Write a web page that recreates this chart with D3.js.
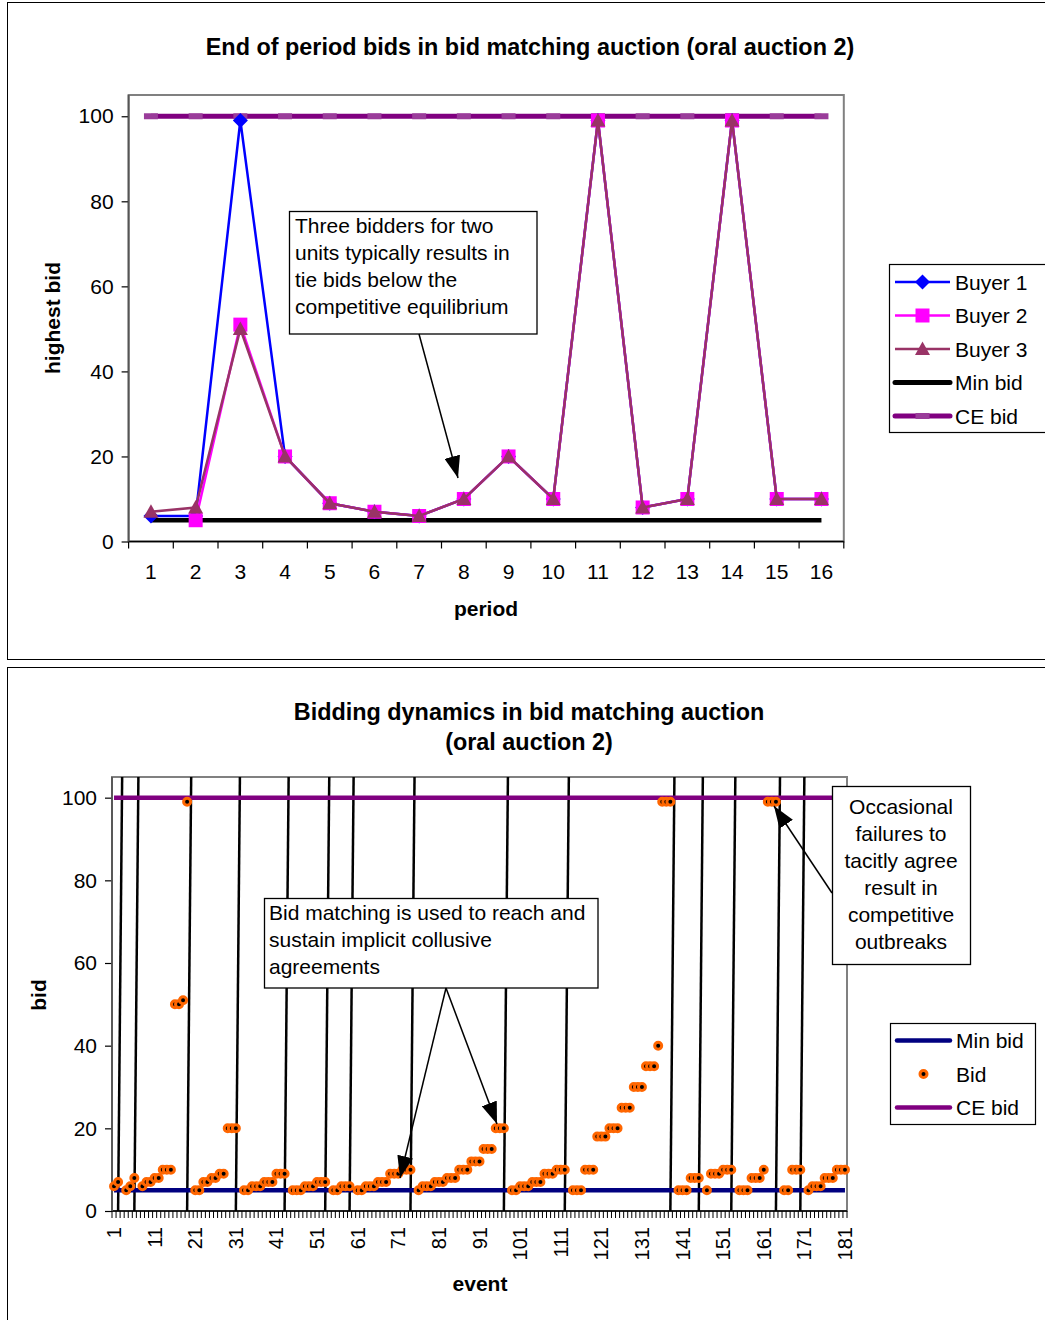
<!DOCTYPE html>
<html>
<head>
<meta charset="utf-8">
<script src="https://cdn.jsdelivr.net/npm/d3@7/dist/d3.min.js"></script>
<style>
  body { margin: 0; background: #fff; }
  svg text { font-family: "Liberation Sans", Arial, sans-serif; fill: #000; }
</style>
</head>
<body>
<svg id="chart" width="1045" height="1320"></svg>
<script>
// ---- top chart: end of period bids ----
const periods = [1, 2, 3, 4, 5, 6, 7, 8, 9, 10, 11, 12, 13, 14, 15, 16]
const buyer1 = [6, 6, 99, 20, 9, 7, 6, 10, 20, 10, 99, 8, 10, 99, 10, 10]
const buyer2 = [null, 5, 51, 20, 9, 7, 6, 10, 20, 10, 99, 8, 10, 99, 10, 10]
const buyer3 = [7, 8, 50, 20, 9, 7, 6, 10, 20, 10, 99, 8, 10, 99, 10, 10]
const minBid = [5, 5, 5, 5, 5, 5, 5, 5, 5, 5, 5, 5, 5, 5, 5, 5]
const ceBid = [100, 100, 100, 100, 100, 100, 100, 100, 100, 100, 100, 100, 100, 100, 100, 100]
const yTicks = [0, 20, 40, 60, 80, 100]

// ---- bottom chart: every bid event, grouped by period ----
const periodBids = [
  [6, 7],
  [5, 6, 8],
  [6, 7, 7, 8, 8, 10, 10, 10, 50, 50, 51, 99],
  [5, 5, 7, 7, 8, 8, 9, 9, 20, 20, 20],
  [5, 5, 6, 6, 6, 7, 7, 7, 9, 9, 9],
  [5, 5, 5, 6, 6, 6, 7, 7, 7],
  [5, 5, 6, 6, 6],
  [5, 5, 6, 6, 6, 7, 7, 7, 9, 9, 9, 10, 10, 10],
  [5, 6, 6, 6, 7, 7, 7, 8, 8, 8, 10, 10, 10, 12, 12, 12, 15, 15, 15, 20, 20, 20],
  [5, 5, 6, 6, 6, 7, 7, 7, 9, 9, 9, 10, 10, 10],
  [5, 5, 5, 10, 10, 10, 18, 18, 18, 20, 20, 20, 25, 25, 25, 30, 30, 30, 35, 35, 35, 40, 99, 99, 99],
  [5, 5, 5, 8, 8, 8],
  [5, 9, 9, 9, 10, 10, 10],
  [5, 5, 5, 8, 8, 8, 10, 99, 99, 99],
  [5, 5, 10, 10, 10],
  [5, 6, 6, 6, 8, 8, 8, 10, 10, 10]
]
const minBidEvents = 5
const ceBidEvents = 100
const eventTickStep = 10

// one empty event between periods, where the period divider is drawn
let bids = []
periodBids.forEach((p, i) => {
  if (i > 0) bids.push(null)
  bids = bids.concat(p)
})
const events = bids.map((d, i) => i + 1)

const svg = d3.select('#chart')
svg.append('rect').attr('width', 1045).attr('height', 1320).attr('fill', '#fff')

// arrow head
svg.append('defs').append('marker')
  .attr('id', 'head')
  .attr('viewBox', '-22 -8 22 16')
  .attr('refX', 0).attr('refY', 0)
  .attr('markerWidth', 22).attr('markerHeight', 16)
  .attr('markerUnits', 'userSpaceOnUse')
  .attr('orient', 'auto')
  .append('path').attr('d', 'M0,0L-22,-8L-22,8Z').attr('fill', '#000')

// chart frames
svg.append('rect').attr('x', 7.5).attr('y', 2.5).attr('width', 1050).attr('height', 657)
  .attr('fill', 'none').attr('stroke', '#000')
svg.append('rect').attr('x', 7.5).attr('y', 667.5).attr('width', 1050).attr('height', 700)
  .attr('fill', 'none').attr('stroke', '#000')

function styleAxis(g, size) {
  g.select('.domain').remove()
  g.selectAll('line').attr('stroke', '#000').attr('stroke-width', 1.2)
  g.selectAll('text').style('font-size', size + 'px').attr('fill', '#000')
}

function note(x, y, w, h, lines, tx, ty, anchor) {
  svg.append('rect').attr('x', x).attr('y', y).attr('width', w).attr('height', h)
    .attr('fill', '#fff').attr('stroke', '#000').attr('stroke-width', 1.3)
  svg.selectAll(null).data(lines).enter().append('text')
    .attr('x', tx).attr('y', (d, i) => ty + i * 27)
    .attr('text-anchor', anchor)
    .style('font-size', '21px')
    .text(d => d)
}

function arrow(x1, y1, x2, y2) {
  svg.append('line').attr('x1', x1).attr('y1', y1).attr('x2', x2).attr('y2', y2)
    .attr('stroke', '#000').attr('stroke-width', 1.5).attr('marker-end', 'url(#head)')
}

// ================= TOP CHART =================
const T = {left: 128.6, right: 843.8, top: 95, bottom: 541.5}
const xTop = d3.scaleBand().domain(periods).range([T.left, T.right])
const yTop = d3.scaleLinear().domain([0, 105]).range([T.bottom, T.top])
const cx = p => xTop(p) + xTop.bandwidth() / 2

svg.append('text').attr('x', 530).attr('y', 55).attr('text-anchor', 'middle')
  .style('font-size', '23.4px').style('font-weight', 'bold')
  .text('End of period bids in bid matching auction (oral auction 2)')

svg.append('rect').attr('x', T.left).attr('y', T.top)
  .attr('width', T.right - T.left).attr('height', T.bottom - T.top)
  .attr('fill', '#fff').attr('stroke', '#808080').attr('stroke-width', 2)

svg.append('g').attr('transform', `translate(${T.left},0)`)
  .call(d3.axisLeft(yTop).tickValues(yTicks).tickSize(7).tickPadding(8))
  .call(g => styleAxis(g, 21))

svg.append('g').attr('transform', `translate(0,${T.bottom})`)
  .call(d3.axisBottom(xTop).tickSize(0).tickPadding(23))
  .call(g => styleAxis(g, 21))

// category boundary ticks
svg.append('g').selectAll('line')
  .data(periods.concat([null]))
  .enter().append('line')
  .attr('x1', (d, i) => T.left + i * xTop.bandwidth())
  .attr('x2', (d, i) => T.left + i * xTop.bandwidth())
  .attr('y1', T.bottom).attr('y2', T.bottom + 7)
  .attr('stroke', '#000').attr('stroke-width', 1.2)

svg.append('line').attr('x1', T.left).attr('x2', T.right).attr('y1', T.bottom).attr('y2', T.bottom)
  .attr('stroke', '#000').attr('stroke-width', 1.5)
svg.append('line').attr('x1', T.left).attr('x2', T.left).attr('y1', T.top).attr('y2', T.bottom)
  .attr('stroke', '#555').attr('stroke-width', 1.8)

svg.append('text').attr('transform', 'translate(60,318) rotate(-90)').attr('text-anchor', 'middle')
  .style('font-size', '21px').style('font-weight', 'bold').text('highest bid')
svg.append('text').attr('x', 486).attr('y', 616).attr('text-anchor', 'middle')
  .style('font-size', '21px').style('font-weight', 'bold').text('period')

const lineTop = d3.line()
  .defined(d => d !== null)
  .x((d, i) => cx(periods[i]))
  .y(d => yTop(d))

const shapes = {
  diamond: 'M0,-7.5L7.5,0L0,7.5L-7.5,0Z',
  square: 'M-7,-7H7V7H-7Z',
  triangle: 'M0,-7.5L7.5,6L-7.5,6Z',
  dash: 'M-7,-3H7V3H-7Z'
}

const topSeries = [
  {name: 'Min bid', values: minBid, color: '#000000', width: 4.5, shape: null},
  {name: 'CE bid', values: ceBid, color: '#800080', width: 5, shape: 'dash', mcolor: '#9a3c9a'},
  {name: 'Buyer 1', values: buyer1, color: '#0000FF', width: 2.5, shape: 'diamond'},
  {name: 'Buyer 2', values: buyer2, color: '#FF00FF', width: 2.5, shape: 'square'},
  {name: 'Buyer 3', values: buyer3, color: '#993366', width: 2.5, shape: 'triangle'}
]

topSeries.forEach(s => {
  svg.append('path').datum(s.values).attr('d', lineTop)
    .attr('fill', 'none').attr('stroke', s.color).attr('stroke-width', s.width)
  if (s.shape) {
    const pts = s.values.map((v, i) => ({p: periods[i], v: v})).filter(d => d.v !== null)
    svg.append('g').selectAll('path').data(pts).enter().append('path')
      .attr('transform', d => `translate(${cx(d.p)},${yTop(d.v)})`)
      .attr('d', shapes[s.shape])
      .attr('fill', s.mcolor || s.color)
  }
})

note(289.5, 211.5, 247.5, 122.5,
  ['Three bidders for two', 'units typically results in', 'tie bids below the', 'competitive equilibrium'],
  295, 233, 'start')
arrow(419, 334, 458, 478)

// top legend
const legendTop = ['Buyer 1', 'Buyer 2', 'Buyer 3', 'Min bid', 'CE bid']
  .map(n => topSeries.find(s => s.name === n))
svg.append('rect').attr('x', 889.5).attr('y', 264.5).attr('width', 170).attr('height', 168)
  .attr('fill', '#fff').attr('stroke', '#000').attr('stroke-width', 1.2)
legendTop.forEach((s, i) => {
  const y = 282 + i * 33.5
  svg.append('line').attr('x1', 895).attr('x2', 950).attr('y1', y).attr('y2', y)
    .attr('stroke', s.color).attr('stroke-width', s.shape && s.shape !== 'dash' ? 2.5 : 5)
    .attr('stroke-linecap', s.shape && s.shape !== 'dash' ? 'butt' : 'round')
  if (s.shape) {
    svg.append('path').attr('transform', `translate(922.5,${y})`)
      .attr('d', shapes[s.shape]).attr('fill', s.mcolor || s.color)
  }
  svg.append('text').attr('x', 955).attr('y', y + 7.5).style('font-size', '21px').text(s.name)
})

// ================= BOTTOM CHART =================
const B = {left: 112, right: 847, top: 777, bottom: 1211}
const xBot = d3.scaleBand().domain(events).range([B.left, B.right])
const yBot = d3.scaleLinear().domain([0, 105]).range([B.bottom, B.top])
const cxb = e => xBot(e) + xBot.bandwidth() / 2

svg.append('text').attr('x', 529).attr('y', 720).attr('text-anchor', 'middle')
  .style('font-size', '23.4px').style('font-weight', 'bold')
  .text('Bidding dynamics in bid matching auction')
svg.append('text').attr('x', 529).attr('y', 750).attr('text-anchor', 'middle')
  .style('font-size', '23.4px').style('font-weight', 'bold')
  .text('(oral auction 2)')

svg.append('rect').attr('x', B.left).attr('y', B.top)
  .attr('width', B.right - B.left).attr('height', B.bottom - B.top)
  .attr('fill', '#fff').attr('stroke', '#808080').attr('stroke-width', 2)

svg.append('g').attr('transform', `translate(${B.left},0)`)
  .call(d3.axisLeft(yBot).tickValues(yTicks).tickSize(7).tickPadding(8))
  .call(g => styleAxis(g, 21))

svg.append('g').attr('transform', `translate(0,${B.bottom})`)
  .call(d3.axisBottom(xBot).tickValues(events.filter(e => (e - 1) % eventTickStep === 0)).tickSize(0))
  .call(g => styleAxis(g, 20))
  .call(g => g.selectAll('text')
    .attr('x', -16).attr('y', 0).attr('dy', '0.35em')
    .attr('transform', 'rotate(-90)')
    .style('text-anchor', 'end'))

svg.append('g').selectAll('line')
  .data(events.concat([null]))
  .enter().append('line')
  .attr('x1', (d, i) => B.left + i * xBot.bandwidth())
  .attr('x2', (d, i) => B.left + i * xBot.bandwidth())
  .attr('y1', B.bottom).attr('y2', B.bottom + 7)
  .attr('stroke', '#000').attr('stroke-width', 1)

svg.append('line').attr('x1', B.left).attr('x2', B.right).attr('y1', B.bottom).attr('y2', B.bottom)
  .attr('stroke', '#000').attr('stroke-width', 1.5)
svg.append('line').attr('x1', B.left).attr('x2', B.left).attr('y1', B.top).attr('y2', B.bottom)
  .attr('stroke', '#555').attr('stroke-width', 1.8)

svg.append('text').attr('transform', 'translate(46,995) rotate(-90)').attr('text-anchor', 'middle')
  .style('font-size', '21px').style('font-weight', 'bold').text('bid')
svg.append('text').attr('x', 480).attr('y', 1291).attr('text-anchor', 'middle')
  .style('font-size', '21px').style('font-weight', 'bold').text('event')

// period dividers: from the last bid of a period at 0 up to the empty event at the top
const dividers = events.filter((e, i) => bids[i] === null)
svg.append('g').selectAll('line').data(dividers).enter().append('line')
  .attr('x1', e => cxb(e - 1)).attr('y1', yBot(0))
  .attr('x2', e => cxb(e)).attr('y2', yBot(105))
  .attr('stroke', '#000').attr('stroke-width', 2.5)

const flatLine = v => [[cxb(events[0]), yBot(v)], [cxb(events[events.length - 1]), yBot(v)]]
svg.append('path').attr('d', d3.line()(flatLine(minBidEvents)))
  .attr('stroke', '#000080').attr('stroke-width', 4.5).attr('fill', 'none')
svg.append('path').attr('d', d3.line()(flatLine(ceBidEvents)))
  .attr('stroke', '#800080').attr('stroke-width', 4.5).attr('fill', 'none')

const bidPts = events.map((e, i) => ({e: e, v: bids[i]})).filter(d => d.v !== null)
svg.append('g').selectAll('circle').data(bidPts).enter().append('circle')
  .attr('cx', d => cxb(d.e)).attr('cy', d => yBot(d.v)).attr('r', 3.5)
  .attr('fill', '#000').attr('stroke', '#FF6600').attr('stroke-width', 3)

note(264.5, 898.5, 333.5, 89.5,
  ['Bid matching is used to reach and', 'sustain implicit collusive', 'agreements'],
  269, 920, 'start')
arrow(446, 988, 400, 1178)
arrow(446, 988, 497, 1124)

note(832.5, 786.5, 138, 178,
  ['Occasional', 'failures to', 'tacitly agree', 'result in', 'competitive', 'outbreaks'],
  901, 814, 'middle')
arrow(832, 893, 774, 806)

// bottom legend
svg.append('rect').attr('x', 890.5).attr('y', 1023.5).attr('width', 145).attr('height', 101)
  .attr('fill', '#fff').attr('stroke', '#000').attr('stroke-width', 1.2)
const legendBot = [
  {name: 'Min bid', color: '#000080'},
  {name: 'Bid', color: null},
  {name: 'CE bid', color: '#800080'}
]
legendBot.forEach((s, i) => {
  const y = 1040.5 + i * 33.5
  if (s.color) {
    svg.append('line').attr('x1', 897).attr('x2', 950).attr('y1', y).attr('y2', y)
      .attr('stroke', s.color).attr('stroke-width', 4.5).attr('stroke-linecap', 'round')
  } else {
    svg.append('circle').attr('cx', 923.5).attr('cy', y).attr('r', 3.5)
      .attr('fill', '#000').attr('stroke', '#FF6600').attr('stroke-width', 3)
  }
  svg.append('text').attr('x', 956).attr('y', y + 7.5).style('font-size', '21px').text(s.name)
})
</script>
</body>
</html>
